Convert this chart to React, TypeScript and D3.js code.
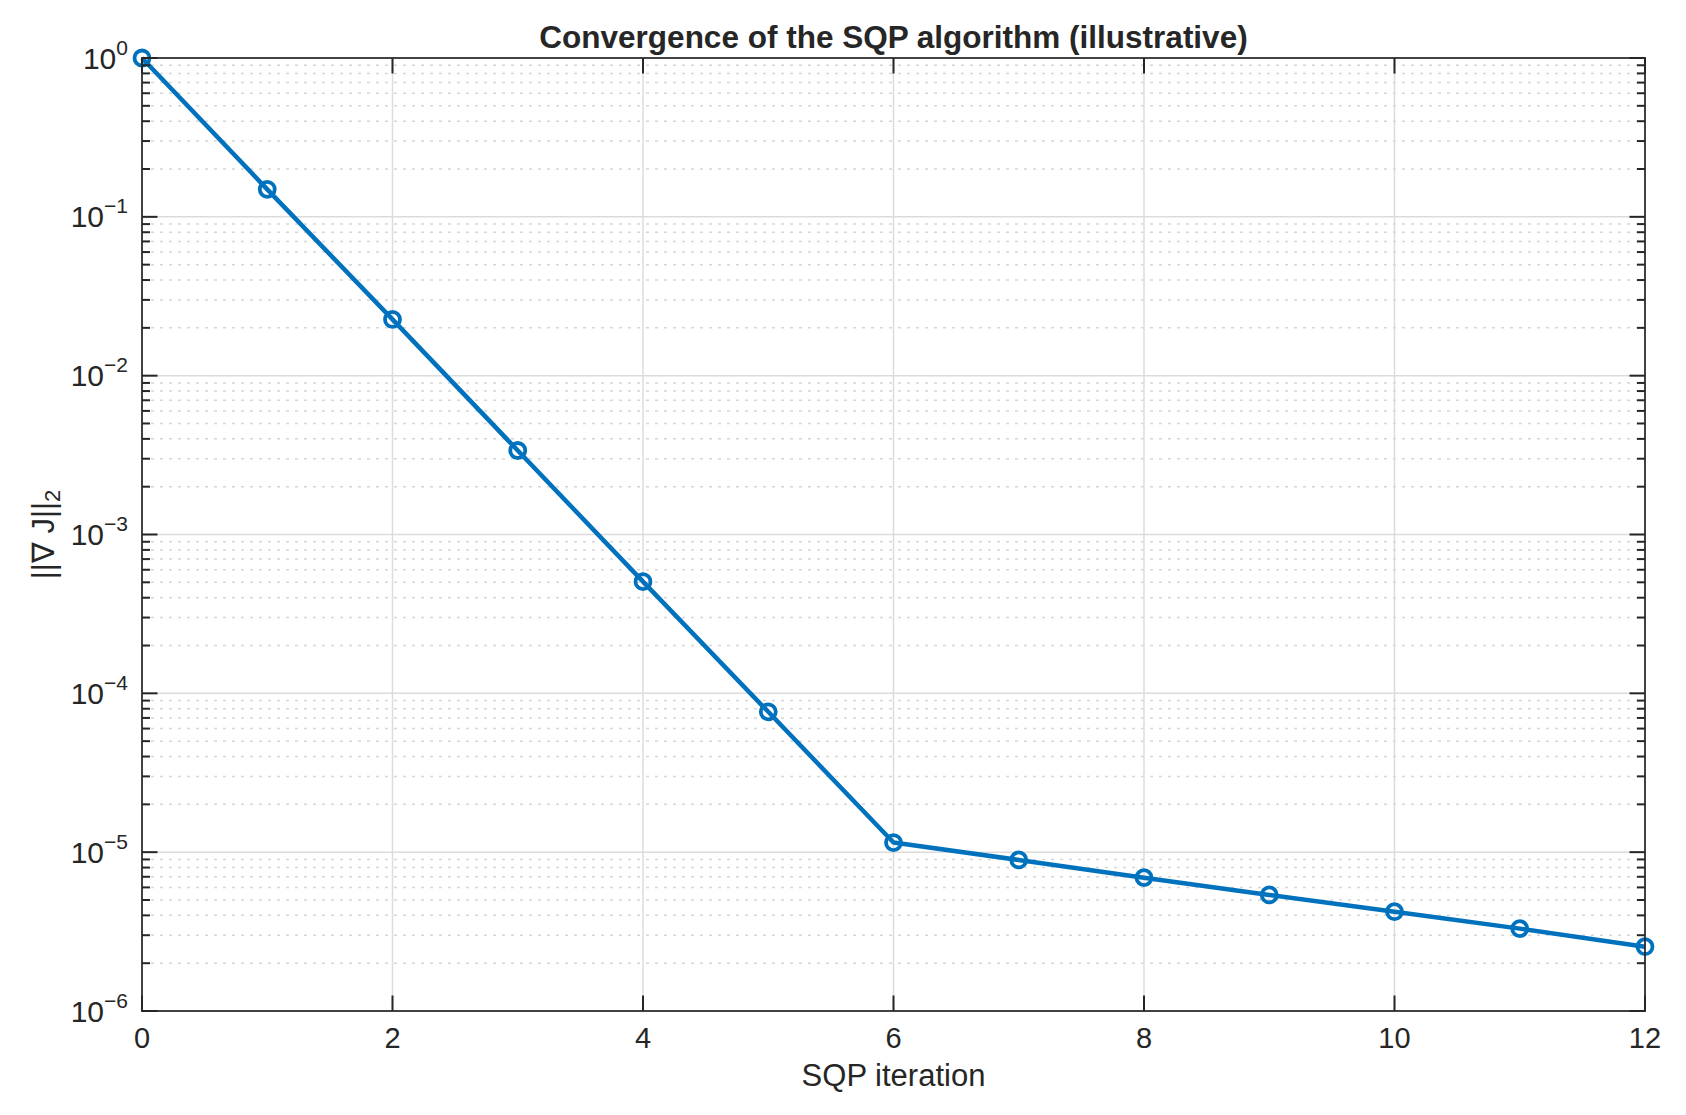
import React from "react";
import * as d3 from "d3";

const iterations = [0, 1, 2, 3, 4, 5, 6, 7, 8, 9, 10, 11, 12];
const gradNorm = [1.0, 0.149, 0.0226, 0.00338, 0.000505, 7.65e-5, 1.15e-5, 8.93e-6, 6.91e-6, 5.38e-6, 4.22e-6, 3.3e-6, 2.54e-6];
const xTicks = [0, 2, 4, 6, 8, 10, 12];
const yDecades = [-6, -5, -4, -3, -2, -1, 0];
const titleText = "Convergence of the SQP algorithm (illustrative)";
const xLabelText = "SQP iteration";

const W = 1686;
const H = 1115;
const L = 142, R = 1645, T = 58, B = 1011;
const FONT = "'Liberation Sans', Arial, Helvetica, sans-serif";
const AX = "#262626";
const LINE = "#0072BD";

export default function App() {
  const x = d3.scaleLinear().domain([0, 12]).range([L, R]);
  const y = d3.scaleLog().domain([1e-6, 1]).range([B, T]);

  const minor: number[] = [];
  for (let e = -6; e < 0; e++) {
    for (let m = 2; m <= 9; m++) minor.push(m * Math.pow(10, e));
  }

  const line = d3
    .line<number>()
    .x((_, i) => x(iterations[i]))
    .y((d) => y(d));

  const pts = gradNorm.map((v, i) => ({ cx: x(iterations[i]), cy: y(v) }));

  return (
    <svg
      width={W}
      height={H}
      style={{ position: "absolute", left: 0, top: 0, background: "#fff" }}
      fontFamily={FONT}
    >
      <rect x={0} y={0} width={W} height={H} fill="#fff" />
      {/* minor grid */}
      {minor.map((v, i) => (
        <line
          key={"mg" + i}
          x1={L}
          x2={R}
          y1={y(v)}
          y2={y(v)}
          stroke="#d6d6d6"
          strokeWidth={1.5}
          strokeDasharray="3 6"
        />
      ))}
      {/* major grid */}
      {yDecades.map((e) => (
        <line
          key={"gy" + e}
          x1={L}
          x2={R}
          y1={y(Math.pow(10, e))}
          y2={y(Math.pow(10, e))}
          stroke="#dcdcdc"
          strokeWidth={1.5}
        />
      ))}
      {xTicks.map((t) => (
        <line key={"gx" + t} x1={x(t)} x2={x(t)} y1={T} y2={B} stroke="#dcdcdc" strokeWidth={1.5} />
      ))}

      {/* data */}
      <path d={line(gradNorm) || ""} fill="none" stroke={LINE} strokeWidth={4.5} strokeLinejoin="round" />
      {pts.map((p, i) => (
        <circle key={"p" + i} cx={p.cx} cy={p.cy} r={7.5} fill="none" stroke={LINE} strokeWidth={3.8} />
      ))}

      {/* box */}
      <rect x={L} y={T} width={R - L} height={B - T} fill="none" stroke={AX} strokeOpacity={0.85} strokeWidth={2} />

      {/* x ticks */}
      {xTicks.map((t) => (
        <g key={"xt" + t}>
          <line x1={x(t)} x2={x(t)} y1={B} y2={B - 15.5} stroke={AX} strokeWidth={2} />
          <line x1={x(t)} x2={x(t)} y1={T} y2={T + 15.5} stroke={AX} strokeWidth={2} />
          <text x={x(t)} y={1048} textAnchor="middle" fontSize={29} fill={AX}>
            {t}
          </text>
        </g>
      ))}

      {/* y ticks */}
      {yDecades.map((e) => {
        const yy = y(Math.pow(10, e));
        return (
          <g key={"yt" + e}>
            <line x1={L} x2={L + 15.5} y1={yy} y2={yy} stroke={AX} strokeWidth={2} />
            <line x1={R} x2={R - 15.5} y1={yy} y2={yy} stroke={AX} strokeWidth={2} />
            <text x={128} y={yy + 10.5} textAnchor="end" fontSize={30} fill={AX}>
              10
              <tspan fontSize={21} dy={-14}>
                {e === 0 ? "0" : "\u2212" + Math.abs(e)}
              </tspan>
            </text>
          </g>
        );
      })}
      {minor.map((v, i) => (
        <g key={"mt" + i}>
          <line x1={L} x2={L + 8} y1={y(v)} y2={y(v)} stroke={AX} strokeWidth={2} />
          <line x1={R} x2={R - 8} y1={y(v)} y2={y(v)} stroke={AX} strokeWidth={2} />
        </g>
      ))}

      {/* title */}
      <text x={(L + R) / 2} y={48} textAnchor="middle" fontSize={31.5} fontWeight="bold" fill={AX}>
        {titleText}
      </text>
      {/* x label */}
      <text x={(L + R) / 2} y={1086} textAnchor="middle" fontSize={31} fill={AX}>
        {xLabelText}
      </text>
      {/* y label */}
      <text
        transform={`translate(54, ${(T + B) / 2}) rotate(-90)`}
        textAnchor="middle"
        fontSize={31}
        fill={AX}
      >
        ||∇ J||
        <tspan fontSize={22} dy={6}>
          2
        </tspan>
      </text>
    </svg>
  );
}
